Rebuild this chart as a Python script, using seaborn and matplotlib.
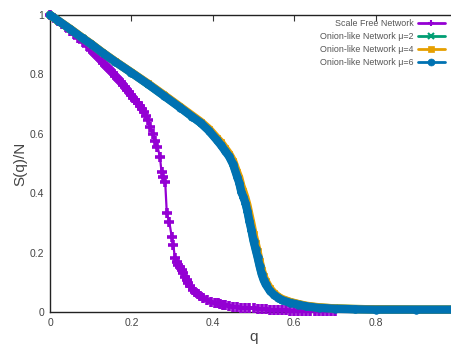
import numpy as np
import pandas as pd
import matplotlib
matplotlib.use("Agg")
import matplotlib.pyplot as plt
from matplotlib.lines import Line2D
import seaborn as sns

# ---- data ----
sf_q = [0.00, 0.01, 0.02, 0.03, 0.04, 0.05, 0.06, 0.07, 0.08, 0.09, 0.10, 0.105, 0.11, 0.115,
        0.12, 0.125, 0.13, 0.135, 0.14, 0.145, 0.15, 0.155, 0.16, 0.165, 0.17, 0.175, 0.18,
        0.185, 0.19, 0.195, 0.20, 0.205, 0.21, 0.215, 0.22, 0.225, 0.23, 0.235, 0.24, 0.246,
        0.252, 0.258, 0.264, 0.270, 0.274, 0.278, 0.283, 0.287, 0.293, 0.299, 0.303,
        0.307, 0.311, 0.315, 0.320, 0.324, 0.328, 0.332, 0.336, 0.340, 0.345, 0.351,
        0.357, 0.363, 0.369, 0.377, 0.386, 0.395, 0.405, 0.412, 0.418, 0.424, 0.43, 0.44,
        0.45, 0.46, 0.47, 0.48, 0.49, 0.50, 0.51, 0.52, 0.53, 0.54, 0.55, 0.56, 0.57, 0.58,
        0.59, 0.60, 0.61, 0.62, 0.63, 0.64, 0.65, 0.66, 0.67, 0.68, 0.69, 0.70]
sf_s = [1.000, 0.990, 0.980, 0.969, 0.958, 0.947, 0.935, 0.922, 0.909, 0.896, 0.882, 0.875, 0.868, 0.861,
        0.854, 0.847, 0.840, 0.833, 0.826, 0.819, 0.811, 0.804, 0.796, 0.789, 0.781, 0.773, 0.765,
        0.757, 0.748, 0.740, 0.731, 0.722, 0.713, 0.704, 0.694, 0.683, 0.672, 0.660, 0.648, 0.623,
        0.600, 0.575, 0.557, 0.523, 0.472, 0.456, 0.439, 0.332, 0.304, 0.254, 0.226,
        0.181, 0.170, 0.158, 0.150, 0.141, 0.130, 0.119, 0.108, 0.097, 0.086, 0.074,
        0.066, 0.060, 0.054, 0.047, 0.040, 0.035, 0.031, 0.029, 0.027, 0.025, 0.023, 0.020,
        0.017, 0.016, 0.015, 0.014, 0.013, 0.012, 0.011, 0.010, 0.009, 0.008, 0.007, 0.007, 0.006, 0.006,
        0.005, 0.005, 0.005, 0.004, 0.004, 0.004, 0.003, 0.003, 0.003, 0.003, 0.003, 0.003]

on2_q = [0.00, 0.02, 0.05, 0.08, 0.10, 0.13, 0.16, 0.20, 0.24, 0.28, 0.32, 0.35, 0.37,
         0.39, 0.41, 0.42, 0.43, 0.44, 0.45, 0.46, 0.465, 0.47, 0.475, 0.48, 0.485, 0.49,
         0.495, 0.50, 0.505, 0.51, 0.515, 0.52, 0.525, 0.53, 0.54, 0.55, 0.56, 0.57, 0.59,
         0.61, 0.63, 0.66, 0.70, 0.75, 0.80, 0.90, 1.00]
on2_s = [1.000, 0.981, 0.952, 0.922, 0.903, 0.872, 0.843, 0.806, 0.768, 0.729, 0.689, 0.658, 0.638,
         0.613, 0.581, 0.565, 0.546, 0.527, 0.500, 0.460, 0.440, 0.410, 0.392, 0.372, 0.345, 0.312,
         0.280, 0.245, 0.218, 0.190, 0.160, 0.132, 0.112, 0.097, 0.075, 0.060, 0.050, 0.042, 0.033,
         0.026, 0.020, 0.015, 0.012, 0.010, 0.009, 0.008, 0.008]

on4_q = [0.00, 0.02, 0.05, 0.08, 0.10, 0.13, 0.16, 0.20, 0.24, 0.28, 0.32, 0.35, 0.37,
         0.39, 0.41, 0.42, 0.43, 0.44, 0.45, 0.46, 0.465, 0.47, 0.475, 0.48, 0.485, 0.49,
         0.495, 0.50, 0.505, 0.51, 0.515, 0.52, 0.525, 0.53, 0.54, 0.55, 0.56, 0.57, 0.59,
         0.61, 0.63, 0.66, 0.70, 0.75, 0.80, 0.90, 1.00]
on4_s = [1.000, 0.981, 0.953, 0.923, 0.904, 0.873, 0.844, 0.807, 0.770, 0.731, 0.691, 0.661, 0.641,
         0.617, 0.586, 0.571, 0.552, 0.533, 0.508, 0.470, 0.452, 0.425, 0.406, 0.385, 0.360, 0.328,
         0.297, 0.262, 0.234, 0.204, 0.172, 0.143, 0.121, 0.104, 0.080, 0.064, 0.052, 0.044, 0.034,
         0.027, 0.021, 0.016, 0.012, 0.010, 0.009, 0.008, 0.008]

on6_q = [0.00, 0.02, 0.05, 0.08, 0.10, 0.13, 0.16, 0.20, 0.24, 0.28, 0.32, 0.35, 0.37,
         0.39, 0.41, 0.42, 0.43, 0.44, 0.45, 0.46, 0.465, 0.47, 0.475, 0.48, 0.485, 0.49,
         0.495, 0.50, 0.505, 0.51, 0.515, 0.52, 0.525, 0.53, 0.54, 0.55, 0.56, 0.57, 0.59,
         0.61, 0.63, 0.66, 0.70, 0.75, 0.80, 0.90, 1.00]
on6_s = [1.000, 0.981, 0.952, 0.922, 0.903, 0.872, 0.843, 0.806, 0.768, 0.728, 0.688, 0.657, 0.637,
         0.611, 0.579, 0.562, 0.543, 0.524, 0.497, 0.455, 0.435, 0.405, 0.388, 0.368, 0.340, 0.305,
         0.275, 0.240, 0.212, 0.185, 0.155, 0.128, 0.108, 0.093, 0.072, 0.058, 0.048, 0.040, 0.031,
         0.025, 0.019, 0.014, 0.011, 0.009, 0.008, 0.008, 0.008]

labels = ["Scale Free Network", "Onion-like Network μ=2",
          "Onion-like Network μ=4", "Onion-like Network μ=6"]
x_ticks = [0, 0.2, 0.4, 0.6, 0.8]
x_tick_labels = ["0", "0.2", "0.4", "0.6", "0.8"]
y_ticks = [0, 0.2, 0.4, 0.6, 0.8, 1.0]
y_tick_labels = ["0", "0.2", "0.4", "0.6", "0.8", "1"]

# ---- styling ----
sns.set_style("white")
plt.rcParams["font.family"] = ["Liberation Sans", "DejaVu Sans"]

colors = ["#9400D3", "#009E73", "#E69F00", "#0072B2"]
markers = ["+", "x", "s", "o"]

fig = plt.figure(figsize=(4.51, 3.49), dpi=100)
ax = fig.add_axes([50 / 451, 37 / 349, 407 / 451, 297 / 349])

series = [(sf_q, sf_s), (on2_q, on2_s), (on4_q, on4_s), (on6_q, on6_s)]
styles = [
    dict(lw=1.6, ms=6.5, mew=2.6),
    dict(lw=6.0, ms=5, mew=1.5),
    dict(lw=6.0, ms=5, mew=0.5),
    dict(lw=6.0, ms=5.5, mew=0.5),
]
for (q, s), c, m, st in zip(series, colors, markers, styles):
    df = pd.DataFrame({"q": q, "S": s})
    sns.lineplot(data=df, x="q", y="S", ax=ax, color=c, marker=m,
                 linewidth=st["lw"], markersize=st["ms"], markeredgewidth=st["mew"],
                 markeredgecolor=c, markerfacecolor=c, estimator=None, sort=False,
                 clip_on=False, zorder=3, legend=False)

ax.set_xlim(0, 1)
ax.set_ylim(0, 1)
ax.set_xticks(x_ticks)
ax.set_xticklabels(x_tick_labels)
ax.set_yticks(y_ticks)
ax.set_yticklabels(y_tick_labels)
ax.tick_params(direction="in", length=4, width=0.8, labelsize=7.5, colors="#333333",
               top=True, right=True, pad=4)
ax.tick_params(axis="both", labelcolor="#444444")
for sp in ax.spines.values():
    sp.set_color("#222222")
    sp.set_linewidth(1.0)
ax.set_xlabel("q", fontsize=11, color="#444444", labelpad=2)
ax.set_ylabel("S(q)/N", fontsize=11, color="#444444", labelpad=2)

# legend (gnuplot-style: text, then sample) with proxy handles
handles = [Line2D([], [], color=c, marker=m, lw=2, ms=5,
                  mew=1.5 if m in "+x" else 0.5, mfc=c, mec=c)
           for c, m in zip(colors, markers)]
leg = ax.legend(handles, labels, loc="upper right", bbox_to_anchor=(0.994, 0.955),
                bbox_transform=fig.transFigure, frameon=False, markerfirst=False,
                fontsize=6.4, handlelength=3.0, handletextpad=0.5, labelspacing=0.45,
                borderaxespad=0)
for t in leg.get_texts():
    t.set_color("#555555")

fig.savefig("out.png", dpi=100)
